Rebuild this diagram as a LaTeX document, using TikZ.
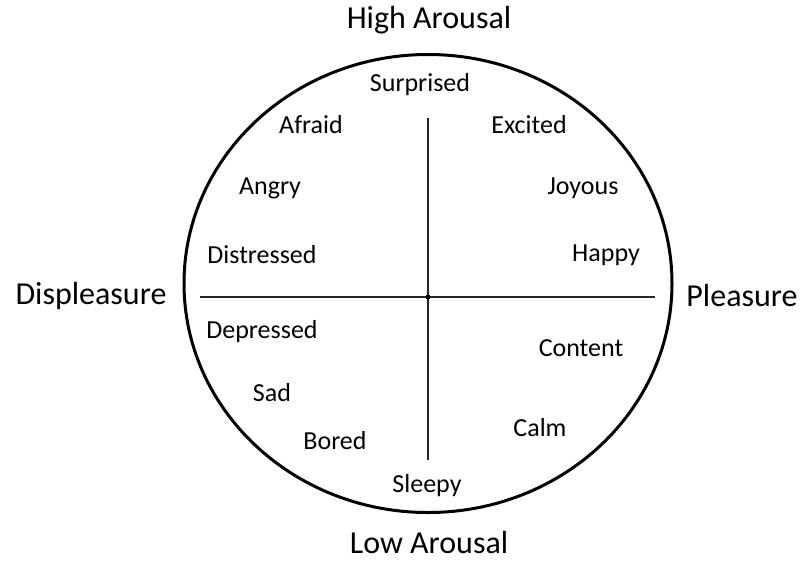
\documentclass[tikz,border=0pt]{standalone}
\usepackage{fontspec}
\setmainfont{Carlito}
\begin{document}
\begin{tikzpicture}[x=1pt,y=-1pt,
  inner/.style={font=\fontsize{26}{30}\selectfont, inner sep=0pt, anchor=center},
  outer/.style={font=\fontsize{32}{36}\selectfont, inner sep=0pt, anchor=center},
  axis/.style={line width=1.3pt, black!85}]
\useasboundingbox (0,0) rectangle (811,563);
\draw[line width=3pt] (428,283.5) ellipse [x radius=244, y radius=229];
\coordinate (L) at (200,297);
\coordinate (R) at (655,297);
\coordinate (T) at (428,118);
\coordinate (B) at (428,460);
\coordinate (C) at (428,297);
\draw[axis] (L) -- (R);
\draw[axis] (T) -- (B);
\fill (C) +(-2,-2) rectangle +(2,2);
\node[outer] (high) at (429,20) {High Arousal};
\node[outer] (low) at (429,542) {Low Arousal};
\node[outer] (displ) at (91,296) {Displeasure};
\node[outer] (pleas) at (742,296) {Pleasure};
\node[inner] (surp) at (420,85) {Surprised};
\node[inner] (afraid) at (311,125) {Afraid};
\node[inner] (excited) at (529,125) {Excited};
\node[inner] (angry) at (270,188) {Angry};
\node[inner] (joyous) at (583,188) {Joyous};
\node[inner] (distr) at (262,255) {Distressed};
\node[inner] (happy) at (606,255) {Happy};
\node[inner] (depr) at (262,332) {Depressed};
\node[inner] (content) at (581,348) {Content};
\node[inner] (sad) at (272,393) {Sad};
\node[inner] (calm) at (540,428) {Calm};
\node[inner] (bored) at (335,441) {Bored};
\node[inner] (sleepy) at (427,486) {Sleepy};
\end{tikzpicture}
\end{document}
